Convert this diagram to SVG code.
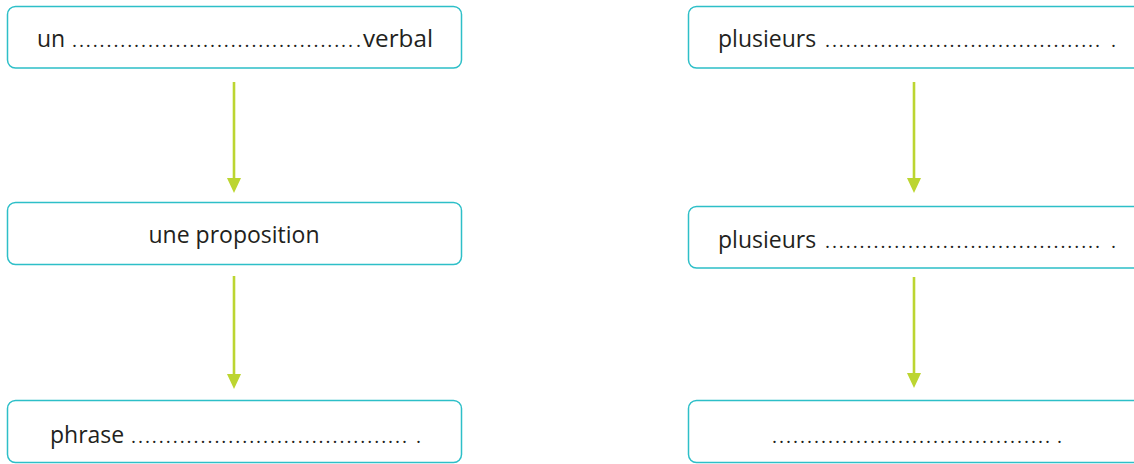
<svg xmlns="http://www.w3.org/2000/svg" width="1134" height="464" viewBox="0 0 1134 464">
<defs>
<style>
.box{fill:#fff;stroke:#2dbfc8;stroke-width:1.5}
.t{font-family:"Open Sans","Liberation Sans",sans-serif;font-size:23px;fill:#231f20}
.d{font-family:"Open Sans","Liberation Sans",sans-serif;font-size:19px;fill:#231f20}
.arr{stroke:#bcd531;stroke-width:2.6;fill:none}
</style>
<marker id="ah" markerUnits="userSpaceOnUse" markerWidth="16" markerHeight="16" refX="4" refY="7" orient="auto">
<path d="M0,0 L15,7 L0,14 z" fill="#bcd531"/>
</marker>
</defs>
<rect width="1134" height="464" fill="#fff"/>
<g id="connectors">
<line class="arr" x1="234" y1="82" x2="234" y2="182" marker-end="url(#ah)"/>
<line class="arr" x1="234" y1="276" x2="234" y2="378" marker-end="url(#ah)"/>
<line class="arr" x1="914" y1="82" x2="914" y2="182" marker-end="url(#ah)"/>
<line class="arr" x1="914" y1="277" x2="914" y2="377" marker-end="url(#ah)"/>
</g>
<g id="n1">
<rect class="box" x="7.5" y="6.5" width="454" height="61.5" rx="8"/>
<text class="t" x="37" y="47">un</text>
<text class="d" x="72" y="47" textLength="281" lengthAdjust="spacing">.........................................</text>
<text class="d" x="356" y="47">.</text>
<text class="t" x="363" y="47" textLength="70" lengthAdjust="spacingAndGlyphs">verbal</text>
</g>
<g id="n2">
<rect class="box" x="7.5" y="202.5" width="454" height="62" rx="8"/>
<text class="t" x="234" y="243" text-anchor="middle">une proposition</text>
</g>
<g id="n3">
<rect class="box" x="7.5" y="400.5" width="454" height="62" rx="8"/>
<text class="t" x="50" y="443">phrase</text>
<text class="d" x="131" y="443" textLength="276" lengthAdjust="spacing">........................................</text>
<text class="d" x="416" y="443">.</text>
</g>
<g id="n4">
<rect class="box" x="688.5" y="6.5" width="460" height="61.5" rx="8"/>
<text class="t" x="718" y="47">plusieurs</text>
<text class="d" x="825" y="47" textLength="275" lengthAdjust="spacing">........................................</text>
<text class="d" x="1111" y="47">.</text>
</g>
<g id="n5">
<rect class="box" x="688.5" y="206.5" width="460" height="61.5" rx="8"/>
<text class="t" x="718" y="248">plusieurs</text>
<text class="d" x="825" y="248" textLength="275" lengthAdjust="spacing">........................................</text>
<text class="d" x="1111" y="248">.</text>
</g>
<g id="n6">
<rect class="box" x="688.5" y="400.5" width="460" height="62" rx="8"/>
<text class="d" x="772" y="443" textLength="278" lengthAdjust="spacing">........................................</text>
<text class="d" x="1057" y="443">.</text>
</g>
</svg>
